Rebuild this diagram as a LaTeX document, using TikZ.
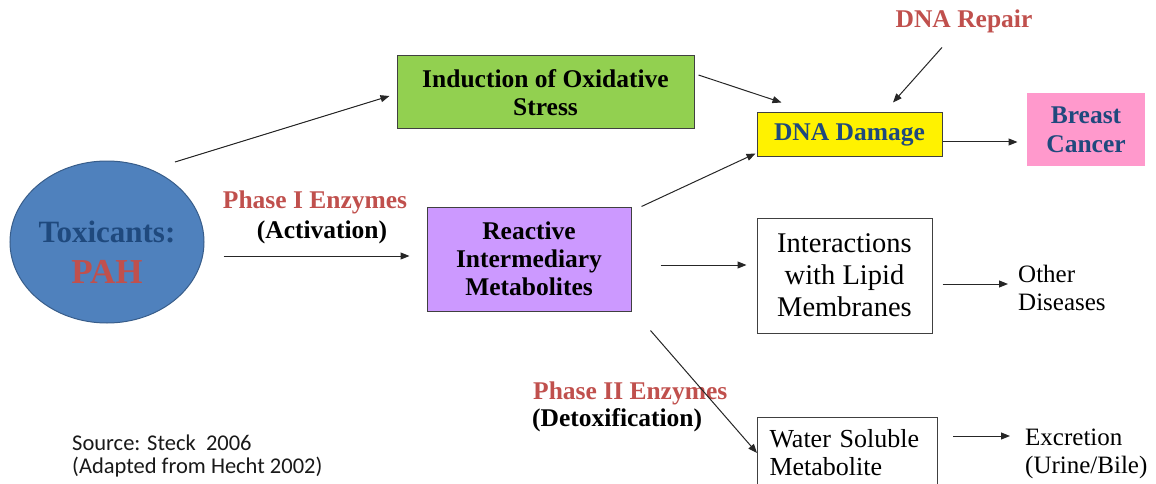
\documentclass[tikz,border=0pt]{standalone}
\usepackage{fontspec}
\setmainfont{Liberation Serif}
\newfontfamily\srcfont{Carlito}
\usetikzlibrary{shapes.geometric,arrows.meta}
\definecolor{toxblue}{HTML}{4F81BD}
\definecolor{toxedge}{HTML}{385D8A}
\definecolor{navy}{HTML}{1F497D}
\definecolor{phred}{HTML}{C0504D}
\definecolor{grnfill}{HTML}{92D050}
\definecolor{purfill}{HTML}{CC99FF}
\definecolor{pinkfill}{HTML}{FF99CC}
\begin{document}
\begin{tikzpicture}[x=1pt,y=-1pt,
    box/.style={draw=black!75,line width=1pt,align=center,inner sep=0pt},
    lbl/.style={inner sep=0pt},
    boldtxt/.style={font=\fontsize{25.5}{28}\selectfont\bfseries},
    plaintxt/.style={font=\fontsize{25}{28}\selectfont},
    arr/.style={-{Triangle[length=9pt,width=7pt]},line width=1pt,black!85}]
  \clip (0,0) rectangle (1156,484);
  \node[ellipse,draw=toxedge,fill=toxblue,line width=1pt,
    minimum width=194pt,minimum height=162pt] (tox) at (107,242) {};
  \node[lbl,align=center,font=\bfseries\fontsize{31}{41}\selectfont] (toxlbl) at (107,252)
    {\color{navy}Toxicants:\\
     \fontsize{35}{41}\selectfont\color{phred}PAH};
  \node[box,fill=grnfill,boldtxt,minimum width=297pt,minimum height=73pt]
    (ind) at (545.5,92.5) {Induction of Oxidative\\Stress};
  \node[box,fill=yellow,boldtxt,text=navy,minimum width=185pt,minimum height=43pt]
    (dna) at (849.5,134.5) {DNA Damage};
  \node[box,draw=none,fill=pinkfill,text=navy,font=\fontsize{25.5}{29}\selectfont\bfseries,
    minimum width=118pt,minimum height=73pt] (brc) at (1086,129.5) {Breast\\Cancer};
  \node[box,fill=purfill,boldtxt,minimum width=204pt,minimum height=104pt]
    (rim) at (529,259) {Reactive\\Intermediary\\Metabolites};
  \node[box,font=\fontsize{28.5}{32}\selectfont,minimum width=175pt,minimum height=115pt]
    (ilm) at (844.5,275.5) {Interactions\\with Lipid\\Membranes};
  \node[box,align=left,anchor=north west,font=\fontsize{26}{28}\selectfont,
    inner xsep=12pt,inner ysep=12pt,text width=156pt]
    (wsm) at (757,417) {Water Soluble\\Metabolite};
  \node[lbl,boldtxt,text=phred,anchor=base] (rep) at (964,28) {DNA Repair};
  \node[lbl,boldtxt,text=phred,anchor=base] (ph1) at (315,208) {Phase I Enzymes};
  \node[lbl,boldtxt,anchor=base] (act) at (322,238) {(Activation)};
  \node[lbl,boldtxt,text=phred,anchor=base west] (ph2) at (533,399) {Phase II Enzymes};
  \node[lbl,boldtxt,anchor=base west] (detox) at (532,426) {(Detoxification)};
  \node[lbl,plaintxt,align=left,anchor=north west] (othd) at (1018,265) {Other\\Diseases};
  \node[lbl,plaintxt,align=left,anchor=north west] (exc) at (1025,429) {Excretion\\(Urine/Bile)};
  \node[lbl,align=left,anchor=north west,font=\srcfont\fontsize{22.5}{23}\selectfont,text=black!90]
    (src) at (72,435) {Source: Steck~~2006\\(Adapted from Hecht 2002)};
  \draw[arr] ([shift={(68,-80)}]tox.center) -- ([shift={(-7,3.5)}]ind.west);
  \draw[arr] ([shift={(4,-17.5)}]ind.east) -- ([shift={(25,-10)}]dna.north west);
  \draw[arr] ([shift={(-22,13.8)}]rep.south) -- ([shift={(43.5,-10)}]dna.north);
  \draw[arr] ([shift={(10,0)}]rim.north east) -- ([shift={(-1,-3)}]dna.south west);
  \draw[arr] ([shift={(0,7.5)}]dna.east) -- ([shift={(-9,12.5)}]brc.west);
  \draw[arr] ([shift={(19,14)}]tox.east) -- ([shift={(-17,-3)}]rim.west);
  \draw[arr] ([shift={(29,6)}]rim.east) -- ([shift={(-10,-10.5)}]ilm.west);
  \draw[arr] ([shift={(10,8.5)}]ilm.east) -- ([shift={(-10,19)}]othd.north west);
  \draw[arr] ([shift={(19,19)}]rim.south east) -- ([shift={(0,36)}]wsm.north west);
  \draw[arr] ([shift={(15,19)}]wsm.north east) -- ([shift={(-15,7)}]exc.north west);
\end{tikzpicture}
\end{document}
